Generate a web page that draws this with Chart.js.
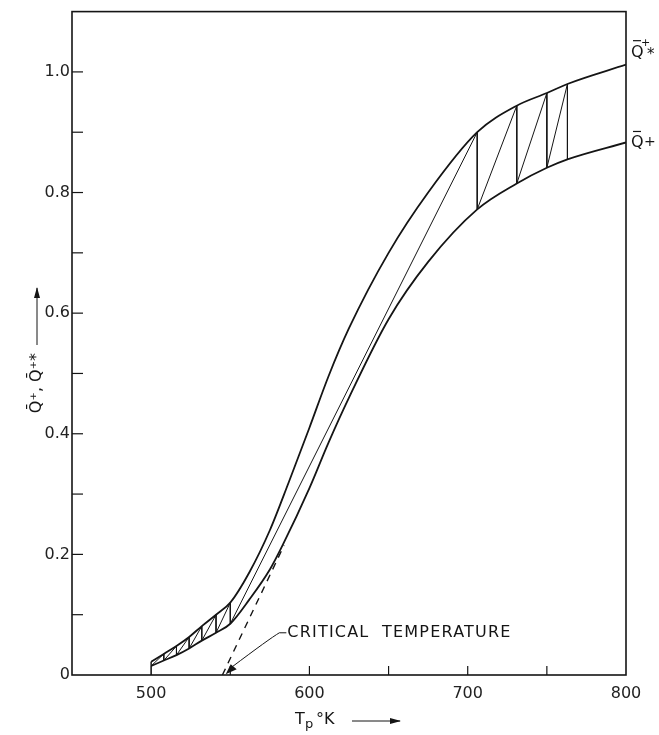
<!DOCTYPE html>
<html>
<head>
<meta charset="utf-8">
<script src="https://cdn.jsdelivr.net/npm/chart.js@4.4.1/dist/chart.umd.min.js"></script>
<style>
  html, body { margin: 0; padding: 0; background: #fff; }
  #wrap { width: 659px; height: 735px; position: relative; }
</style>
</head>
<body>
<div id="wrap"><canvas id="myChart"></canvas></div>
<script>
(function () {
    // Upper curve, Q*+
    const upperT = [500, 508, 516, 524, 532, 541, 550, 562, 575, 587, 600, 612, 625, 650, 675, 706, 731, 750, 763, 800];
    const upperQ = [0.022, 0.035, 0.048, 0.063, 0.081, 0.100, 0.120, 0.170, 0.240, 0.320, 0.410, 0.495, 0.575, 0.700, 0.800, 0.900, 0.944, 0.965, 0.980, 1.012];

    // Lower curve, Q+
    const lowerT = [500, 508, 516, 524, 532, 541, 550, 562, 575, 583, 600, 612, 625, 650, 675, 706, 731, 750, 763, 800];
    const lowerQ = [0.015, 0.024, 0.033, 0.044, 0.057, 0.070, 0.085, 0.125, 0.175, 0.215, 0.310, 0.385, 0.460, 0.590, 0.685, 0.772, 0.815, 0.841, 0.855, 0.883];

    // Staircase between the two curves
    const stepT = [500, 500, 500, 508, 508, 516, 516, 524, 524, 532, 532, 541, 541, 550, 550, 706, 706, 731, 731, 750, 750, 763, 763];
    const stepQ = [0, 0.022, 0.015, 0.035, 0.024, 0.048, 0.033, 0.063, 0.044, 0.081, 0.057, 0.100, 0.070, 0.120, 0.085, 0.900, 0.772, 0.944, 0.815, 0.965, 0.841, 0.980, 0.855];

    // Dashed tangent down to the critical temperature
    const tangentT = [545, 584];
    const tangentQ = [0, 0.215];

    const xLabels = [500, 600, 700, 800];
    const yLabels = [0, 0.2, 0.4, 0.6, 0.8, 1.0];

    const ink = '#151515';
    const font = '"DejaVu Sans", sans-serif';

    const pts = (xs, ys) => xs.map((x, i) => ({ x: x, y: ys[i] }));

    const decor = {
        id: 'decor',
        afterDraw(chart) {
            const { ctx, chartArea: a, scales: { x, y } } = chart;
            ctx.save();
            ctx.strokeStyle = ink;
            ctx.fillStyle = ink;

            // frame
            ctx.lineWidth = 1.6;
            ctx.strokeRect(a.left, a.top, a.right - a.left, a.bottom - a.top);

            // inward ticks
            ctx.lineWidth = 1.2;
            for (let t = 500; t < 800; t += 50) {
                const px = x.getPixelForValue(t);
                ctx.beginPath();
                ctx.moveTo(px, a.bottom);
                ctx.lineTo(px, a.bottom - 9);
                ctx.stroke();
            }
            for (let k = 1; k <= 10; k++) {
                const py = y.getPixelForValue(k / 10);
                ctx.beginPath();
                ctx.moveTo(a.left, py);
                ctx.lineTo(a.left + 11, py);
                ctx.stroke();
            }

            // curve labels at the right
            ctx.textBaseline = 'middle';
            ctx.textAlign = 'left';
            const lx = a.right + 5;
            let ly = y.getPixelForValue(1.012) - 12;
            ctx.font = '16px ' + font;
            ctx.fillText('Q', lx, ly);
            ctx.font = '11px ' + font;
            ctx.fillText('+', lx + 10, ly - 10);
            ctx.font = '15px ' + font;
            ctx.fillText('*', lx + 16, ly + 2);
            ctx.lineWidth = 1.2;
            ctx.beginPath();
            ctx.moveTo(lx + 2, ly - 12);
            ctx.lineTo(lx + 10, ly - 12);
            ctx.stroke();

            ly = y.getPixelForValue(0.883);
            ctx.font = '16px ' + font;
            ctx.fillText('Q', lx, ly);
            ctx.font = '14px ' + font;
            ctx.fillText('+', lx + 13, ly);
            ctx.beginPath();
            ctx.moveTo(lx + 2, ly - 11);
            ctx.lineTo(lx + 10, ly - 11);
            ctx.stroke();

            // critical temperature note
            const tipX = x.getPixelForValue(549), tipY = y.getPixelForValue(0.008);
            const elX = x.getPixelForValue(581), elY = y.getPixelForValue(0.07);
            ctx.lineWidth = 1;
            ctx.beginPath();
            ctx.moveTo(tipX + 3, tipY - 3);
            ctx.quadraticCurveTo(elX - 10, elY + 6, elX, elY);
            ctx.lineTo(elX + 7, elY);
            ctx.stroke();
            ctx.beginPath();
            ctx.moveTo(tipX - 3, tipY + 4);
            ctx.lineTo(tipX + 2, tipY - 6);
            ctx.lineTo(tipX + 8, tipY - 1);
            ctx.closePath();
            ctx.fill();
            ctx.font = '16px ' + font;
            ctx.letterSpacing = '1.2px';
            ctx.fillText('CRITICAL  TEMPERATURE', elX + 8, elY);
            ctx.letterSpacing = '0px';

            // x title
            ctx.font = '16px ' + font;
            ctx.textAlign = 'left';
            ctx.fillText('T', 295, 720);
            ctx.font = '13px ' + font;
            ctx.fillText('p', 305, 725);
            ctx.font = '16px ' + font;
            ctx.fillText('°K', 316, 720);
            ctx.lineWidth = 1;
            ctx.beginPath();
            ctx.moveTo(352, 721);
            ctx.lineTo(400, 721);
            ctx.stroke();
            ctx.beginPath();
            ctx.moveTo(401, 721);
            ctx.lineTo(390, 718);
            ctx.lineTo(390, 724);
            ctx.closePath();
            ctx.fill();

            // y title
            ctx.save();
            ctx.translate(37, 383);
            ctx.rotate(-Math.PI / 2);
            ctx.textAlign = 'center';
            ctx.font = '16px ' + font;
            ctx.fillText('Q\u0304\u207A, Q\u0304\u207A*', 0, 0);
            ctx.beginPath();
            ctx.moveTo(38, 0);
            ctx.lineTo(95, 0);
            ctx.stroke();
            ctx.beginPath();
            ctx.moveTo(96, 0);
            ctx.lineTo(85, -3);
            ctx.lineTo(85, 3);
            ctx.closePath();
            ctx.fill();
            ctx.restore();

            ctx.restore();
        }
    };

    const ctx = document.getElementById('myChart');

    new Chart(ctx, {
        type: 'scatter',
        data: {
            datasets: [{
                label: 'Q*+',
                data: pts(upperT, upperQ),
                showLine: true,
                borderColor: ink,
                borderWidth: 1.8,
                pointRadius: 0,
                cubicInterpolationMode: 'monotone'
              },{
                label: 'Q+',
                data: pts(lowerT, lowerQ),
                showLine: true,
                borderColor: ink,
                borderWidth: 1.8,
                pointRadius: 0,
                cubicInterpolationMode: 'monotone'
              },{
                label: 'steps',
                data: pts(stepT, stepQ),
                showLine: true,
                borderColor: ink,
                borderWidth: 1,
                pointRadius: 0,
                tension: 0
              },{
                label: 'tangent',
                data: pts(tangentT, tangentQ),
                showLine: true,
                borderColor: ink,
                borderWidth: 1.4,
                borderDash: [7, 6],
                pointRadius: 0,
                tension: 0
              }]
        },
        options: {
            responsive: true,
            maintainAspectRatio: false,
            animation: false,
            layout: { padding: { left: 0, right: 33, top: 8, bottom: 0 } },
            plugins: {
                legend: { display: false },
                tooltip: { enabled: false }
            },
            scales: {
                x: {
                    type: 'linear',
                    min: 450,
                    max: 800,
                    afterFit(scale) { scale.height = 60; },
                    grid: { display: false, drawTicks: false },
                    border: { display: false },
                    afterBuildTicks(scale) {
                        scale.ticks = xLabels.map(v => ({ value: v }));
                    },
                    ticks: {
                        color: '#222',
                        padding: 9,
                        font: { family: 'DejaVu Sans', size: 16 },
                        maxRotation: 0,
                        callback: v => String(v)
                    }
                },
                y: {
                    min: 0,
                    max: 1.1,
                    afterFit(scale) { scale.width = 72; },
                    grid: { display: false, drawTicks: false },
                    border: { display: false },
                    afterBuildTicks(scale) {
                        scale.ticks = yLabels.map(v => ({ value: v }));
                    },
                    ticks: {
                        color: '#222',
                        padding: 2,
                        font: { family: 'DejaVu Sans', size: 16 },
                        callback: v => v === 0 ? '0' : v.toFixed(1)
                    }
                }
            }
        },
        plugins: [decor]
    });
})();
</script>
</body>
</html>
